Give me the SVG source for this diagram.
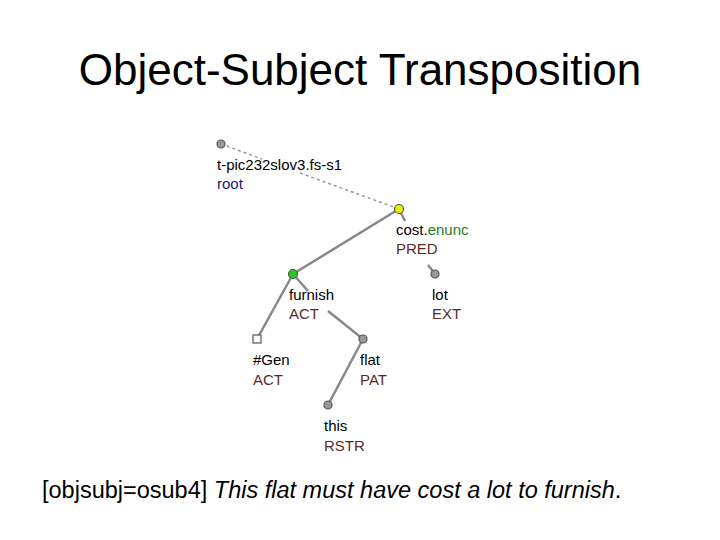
<svg xmlns="http://www.w3.org/2000/svg" width="720" height="540" viewBox="0 0 720 540">
<style>
text{font-family:"Liberation Sans",Arial,sans-serif}
.l{font-size:15px;fill:#000}
.f{font-size:15px;fill:#5a2a1e}
.e{stroke:#888;stroke-width:2.5;fill:none}
.n{stroke:#555;stroke-width:1.2;fill:#999}
</style>
<rect width="720" height="540" fill="#fff"/>
<text x="360" y="85" font-size="44" text-anchor="middle">Object-Subject Transposition</text>
<g id="connectors">
<path d="M221,144 L262,159 M300,173 L399,209" stroke="#999" stroke-width="1.5" stroke-dasharray="3,3" fill="none"/>
<path class="e" d="M399,209 L293,274"/>
<path class="e" d="M399,209 L405,221 M428,265 L435,274"/>
<path class="e" d="M293,274 L308,291 M328,311 L363,339"/>
<path class="e" d="M293,274 L257,339"/>
<path class="e" d="M363,339 L328,405"/>
</g>
<g id="root"><circle class="n" cx="221" cy="144" r="4"/><text class="l" x="217" y="170">t-pic232slov3.fs-s1</text><text x="217" y="189" font-size="15" fill="#1a1a6e">root</text></g>
<g id="cost"><circle cx="399" cy="209" r="4.5" fill="#ee0" stroke="#555" stroke-width="1.2"/><text class="l" x="396" y="235">cost.<tspan fill="#2a7a2a">enunc</tspan></text><text class="f" x="396" y="254">PRED</text></g>
<g id="furnish"><circle cx="293" cy="274" r="4.5" fill="#2c2" stroke="#555" stroke-width="1.2"/><text class="l" x="289" y="300">furnish</text><text class="f" x="289" y="319">ACT</text></g>
<g id="lot"><circle class="n" cx="435" cy="274" r="4"/><text class="l" x="432" y="300">lot</text><text class="f" x="432" y="319">EXT</text></g>
<g id="gen"><rect x="253" y="335" width="8" height="8" fill="#fff" stroke="#555" stroke-width="1.2"/><text class="l" x="253" y="365">#Gen</text><text class="f" x="253" y="385">ACT</text></g>
<g id="flat"><circle class="n" cx="363" cy="339" r="4"/><text class="l" x="360" y="365">flat</text><text class="f" x="360" y="385">PAT</text></g>
<g id="this"><circle class="n" cx="328" cy="405" r="4"/><text class="l" x="324" y="431">this</text><text class="f" x="324" y="451">RSTR</text></g>
<text x="42" y="498" font-size="23.5">[objsubj=osub4] <tspan font-style="italic">This flat must have cost a lot to furnish</tspan>.</text>
</svg>
